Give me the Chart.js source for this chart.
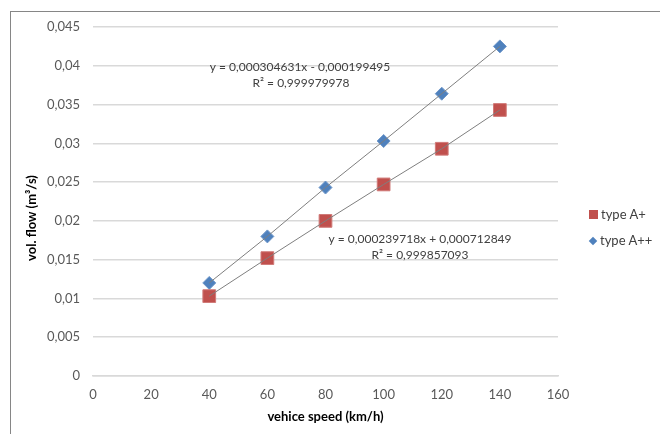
<!DOCTYPE html>
<html>
<head>
<meta charset="utf-8">
<script src="https://cdn.jsdelivr.net/npm/chart.js@4.4.1/dist/chart.umd.min.js"></script>
<style>
    html, body { margin: 0; padding: 0; background: #fff; overflow: hidden; }
    #wrap { position: relative; width: 660px; height: 434px; overflow: hidden; }
    #frame { position: absolute; left: 10px; top: 11px; width: 720px; height: 500px;
             border-top: 1px solid #868686; border-left: 1px solid #868686; }
    #chart { position: absolute; left: 0; top: 0; }
    #legend { position: absolute; left: 589px; top: 205px; font: 13px Lato, sans-serif; color: #404040; }
    #legend div { height: 26px; line-height: 18px; white-space: nowrap; }
    #legend span.mk { display: inline-block; vertical-align: middle; margin-right: 3px; position: relative; top: -1px; }
</style>
</head>
<body>
<div id="wrap">
    <div id="frame"></div>
    <canvas id="chart" width="660" height="434"></canvas>
    <div id="legend"></div>
</div>
<script>
// vehicle speed (km/h)
const speeds = [40, 60, 80, 100, 120, 140];
// vol. flow (m3/s)
const typeAPlus = [0.0103, 0.0152, 0.0200, 0.0247, 0.0293, 0.0343];
const typeAPlusPlus = [0.0120, 0.0180, 0.0243, 0.0303, 0.0364, 0.0425];

const seriesNames = ['type A+', 'type A++'];
const yTickLabels = ['0', '0,005', '0,01', '0,015', '0,02', '0,025', '0,03', '0,035', '0,04', '0,045'];
const xTickLabels = ['0', '20', '40', '60', '80', '100', '120', '140', '160'];
const trendLabels = [
    ['y = 0,000304631x - 0,000199495', 'R\u00b2 = 0,999979978'],
    ['y = 0,000239718x + 0,000712849', 'R\u00b2 = 0,999857093'],
];

const RED = '#c0504d';
const BLUE = '#4f81bd';
const FONT = 'Lato, sans-serif';

const pts = ys => speeds.map((x, i) => ({ x, y: ys[i] }));

// equation text + rotated y title
const notesPlugin = {
    id: 'notes',
    afterDraw(chart) {
        const { ctx } = chart;
        ctx.save();
        ctx.fillStyle = '#404040';
        ctx.font = '12px ' + FONT;
        ctx.textAlign = 'center';
        ctx.textBaseline = 'middle';
        ctx.fillText(trendLabels[0][0], 300, 67);
        ctx.fillText(trendLabels[0][1], 301, 83);
        ctx.fillText(trendLabels[1][0], 420, 239);
        ctx.fillText(trendLabels[1][1], 420, 255);

        ctx.fillStyle = '#000';
        ctx.font = 'bold 13px ' + FONT;
        ctx.translate(32, 218);
        ctx.rotate(-Math.PI / 2);
        ctx.fillText('vol. flow (m\u00b3/s)', 0, 0);
        ctx.restore();
    }
};

const ctx = document.getElementById('chart').getContext('2d');

new Chart(ctx, {
    type: 'scatter',
    data: {
        datasets: [
            {
                label: seriesNames[0],
                data: pts(typeAPlus),
                pointStyle: 'rect',
                pointRadius: 9,
                pointBackgroundColor: RED,
                pointBorderColor: '#d07a78',
                pointBorderWidth: 1,
                order: 2,
            },
            {
                label: seriesNames[1],
                data: pts(typeAPlusPlus),
                pointStyle: 'rectRot',
                pointRadius: 6.5,
                pointBackgroundColor: BLUE,
                pointBorderColor: '#6f97c9',
                pointBorderWidth: 1,
                order: 2,
            },
            // trend lines through the same points
            {
                data: pts(typeAPlus),
                showLine: true,
                borderColor: '#7f7f7f',
                borderWidth: 1,
                pointRadius: 0,
                order: 1,
            },
            {
                data: pts(typeAPlusPlus),
                showLine: true,
                borderColor: '#7f7f7f',
                borderWidth: 1,
                pointRadius: 0,
                order: 1,
            },
        ]
    },
    options: {
        responsive: false,
        animation: false,
        layout: { padding: { left: 0, top: 27, right: 102, bottom: 0 } },
        plugins: {
            legend: { display: false },
            tooltip: { enabled: false },
        },
        scales: {
            x: {
                min: 0,
                max: 160,
                ticks: {
                    stepSize: 20,
                    color: '#595959',
                    font: { family: FONT, size: 13 },
                    padding: 11,
                    maxRotation: 0,
                    callback: (v, i) => xTickLabels[i],
                },
                grid: { display: false, drawTicks: false },
                border: { display: true, color: '#d9d9d9', width: 1.5 },
                title: {
                    display: true,
                    text: 'vehice speed (km/h)',
                    color: '#000',
                    font: { family: FONT, size: 13, weight: 'bold' },
                    padding: { top: 0, bottom: 9 },
                },
                afterFit: s => { s.height = 58; },
            },
            y: {
                min: 0,
                max: 0.045,
                ticks: {
                    stepSize: 0.005,
                    color: '#595959',
                    font: { family: FONT, size: 13 },
                    padding: 13,
                    callback: (v, i) => yTickLabels[i],
                },
                grid: { color: '#d9d9d9', lineWidth: 1.5, drawTicks: false },
                border: { display: false },
                afterFit: s => { s.width = 93; },
            },
        }
    },
    plugins: [notesPlugin],
});

// legend
const legend = document.getElementById('legend');
legend.innerHTML =
    '<div><span class="mk" style="width:9px;height:9px;background:' + RED + '"></span>' + seriesNames[0] + '</div>' +
    '<div><span class="mk" style="width:6px;height:6px;margin:0 4px 0 1px;background:' + BLUE + ';transform:rotate(45deg)"></span>' + seriesNames[1] + '</div>';
</script>
</body>
</html>
